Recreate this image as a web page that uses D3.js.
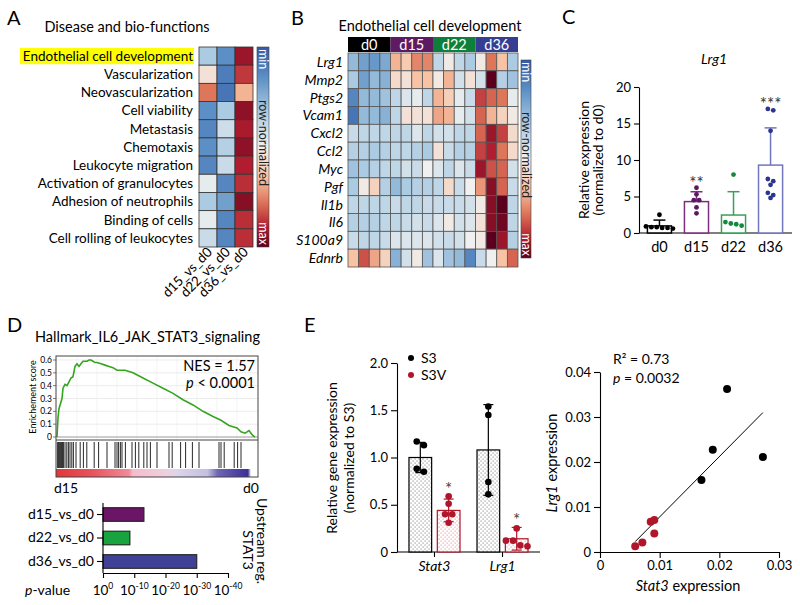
<!DOCTYPE html>
<html><head><meta charset="utf-8">
<script src="https://cdn.jsdelivr.net/npm/d3@7"></script>
<style>
body{margin:0;background:#fff;}
svg{font-family:Lato,"Open Sans",sans-serif;}
</style></head><body>
<svg id="fig" width="800" height="605"></svg>
<script>
// ================= DATA =================
// Panel A
const functionsA = ["Endothelial cell development","Vascularization","Neovascularization","Cell viability","Metastasis","Chemotaxis","Leukocyte migration","Activation of granulocytes","Adhesion of neutrophils","Binding of cells","Cell rolling of leukocytes"];
const contrastsA = ["d15_vs_d0","d22_vs_d0","d36_vs_d0"];
const valuesA = [
  [-0.35,-0.7,0.85],[0.1,-0.8,0.72],[0.55,-0.85,0.35],[-0.7,-0.35,0.88],[-0.75,-0.18,0.82],
  [-0.7,-0.3,0.88],[-0.75,-0.2,0.8],[-0.05,-0.75,0.75],[-0.35,-0.6,0.9],[-0.05,-0.75,0.75],[-0.2,-0.75,0.75]
];
// Panel B
const genesB = ["Lrg1","Mmp2","Ptgs2","Vcam1","Cxcl2","Ccl2","Myc","Pgf","Il1b","Il6","S100a9","Ednrb"];
const groupsB = ["d0","d15","d22","d36"];
const replicatesB = [1,2,3,4];
const valuesB = [
  [-0.45,-0.6,-0.65,-0.55, 0.35,0.25,0.5,0.5, -0.25,0.05,-0.25,-0.35, 0.05,0.55,0.3,-0.35],
  [-0.35,-0.6,-0.45,-0.5, 0.15,0.1,0.3,0.3, 0.05,0.35,-0.15,0.1, -0.15,1.0,-0.3,-0.4],
  [-0.75,-0.45,-0.45,-0.4, -0.25,-0.1,-0.05,-0.25, 0.35,0.22,-0.05,-0.2, 0.7,0.6,0.55,-0.05],
  [-0.85,-0.45,-0.45,-0.5, -0.25,0.1,0.1,0.1, 0.4,0.35,-0.05,-0.15, 0.6,0.35,0.2,0.05],
  [-0.2,-0.25,-0.25,-0.25, -0.25,-0.25,-0.1,-0.25, -0.15,-0.15,-0.25,-0.25, 0.6,0.85,0.7,0.15],
  [-0.3,-0.3,-0.35,-0.3, -0.25,-0.25,-0.3,-0.35, 0.1,-0.2,-0.3,-0.3, 0.7,0.8,0.55,0.15],
  [-0.4,-0.35,-0.3,-0.25, -0.25,-0.15,-0.2,0.0, -0.1,-0.25,-0.1,-0.2, 0.85,0.65,0.6,-0.15],
  [-0.35,0.05,0.2,-0.3, -0.45,-0.35,-0.3,-0.3, -0.25,0.15,-0.2,0.0, 0.45,0.9,0.6,-0.2],
  [-0.25,-0.25,-0.25,-0.25, -0.2,-0.25,-0.25,-0.2, -0.2,-0.2,-0.2,-0.15, 0.05,0.9,1.0,-0.25],
  [-0.3,-0.3,-0.3,-0.25, -0.25,-0.2,-0.15,-0.2, -0.1,0.05,-0.15,-0.1, 0.1,0.9,0.95,-0.25],
  [-0.2,-0.25,-0.25,-0.2, -0.1,-0.1,-0.1,-0.1, -0.15,-0.2,-0.15,0.0, 0.05,1.0,0.85,-0.3],
  [0.3,0.65,0.4,0.2, -0.5,-0.15,0.05,-0.4, -0.1,-0.4,-0.45,-0.75, -0.2,0.0,0.3,0.6]
];
// Panel C
const groupsC = ["d0","d15","d22","d36"];
const pointsC = [
  [2.5,0.9,0.7,0.6,0.8,0.7,0.8],
  [6.2,5.3,4.5,4.5,3.5,2.7],
  [8.0,1.5,1.3,1.0,1.2],
  [16.8,17.0,14.0,7.4,7.1,6.6,5.5,5.2,4.8]
];
const meansC = [0.97,4.3,2.46,9.3];
const sdC = [0.8,1.35,3.2,5.1];
const starsC = ["","**","","***"];
const ticksC = [0,5,10,15,20];
// Panel D (GSEA)
const esRank = [0,0.5,1,2.5,3,4,5,6,7,8,9,10,11,12,13,15,16,17,18,19,20,22,24,26,28,30,32,34,38,43,48,53,58,63,68,73,78,82,86,88,90,92,94,95,96,97,98,99];
const esScore = [0,0.15,0.22,0.3,0.38,0.41,0.40,0.43,0.46,0.47,0.55,0.57,0.55,0.57,0.59,0.59,0.6,0.6,0.59,0.58,0.58,0.57,0.56,0.55,0.54,0.52,0.52,0.52,0.5,0.46,0.42,0.38,0.34,0.29,0.25,0.2,0.16,0.13,0.09,0.08,0.07,0.04,0.03,0.04,0.05,0.03,0.01,0];
const esTicks = [0,0.1,0.2,0.3,0.4,0.5,0.6];
const hitsD = [0.2,0.8,1.2,1.8,2.3,2.8,3.2,4,4.9,5.7,6.5,7.4,8.2,9.5,11.6,13.2,14.9,18.6,20.8,25,29,30,30.8,31.7,32.5,34.2,37.5,39.2,40.9,43.4,45,46.7,50,56,57.6,61.8,64.3,67.7,71,81,82,83.6,88.6,90.3,92];
const contrastsD = ["d15_vs_d0","d22_vs_d0","d36_vs_d0"];
const negLogPD = [13.1,8.6,30];
const ticksD = [0,10,20,30,40];
// Panel E (bars)
const genesE = ["Stat3","Lrg1"];
const groupsE = ["S3","S3V"];
const pointsE = {
  S3:  [[1.13,1.17,0.85,0.88],[1.54,1.45,0.74,0.61]],
  S3V: [[0.59,0.51,0.40,0.40,0.31],[0.25,0.12,0.12,0.07,0.06]]
};
const meansE = {S3:[1.0,1.08], S3V:[0.44,0.14]};
const sdE = {S3:[0.16,0.48], S3V:[0.12,0.12]};
const starsE = {S3:["",""], S3V:["*","*"]};
const ticksE = [0,0.5,1.0,1.5,2.0];
// Panel E (scatter)
const scatterS3x = [0.0213,0.0189,0.0273,0.0170];
const scatterS3y = [0.0362,0.0227,0.0211,0.0160];
const scatterS3Vx = [0.0085,0.0091,0.0091,0.0071,0.0059];
const scatterS3Vy = [0.0067,0.0071,0.0041,0.0021,0.0013];
const fitSlope = 1.34, fitIntercept = -0.0056, fitRange = [0.0059,0.0273];
const ticksSx = [0,0.01,0.02,0.03], ticksSy = [0,0.01,0.02,0.03,0.04];

// ================= DRAWING =================
const svg = d3.select("#fig");
svg.append("rect").attr("width",800).attr("height",605).attr("fill","#fff");
const defs = svg.append("defs");

const heat = d3.scaleLinear()
  .domain([-1,-0.7,-0.35,0,0.3,0.55,0.8,1])
  .range(["#345aa6","#5b8fc5","#abcbe2","#f0f0f0","#f8c3a4","#de765a","#b11d2e","#5a001e"]).clamp(true);
const grad = defs.append("linearGradient").attr("id","heatGrad").attr("x1",0).attr("y1",0).attr("x2",0).attr("y2",1);
d3.range(0,1.0001,0.05).forEach(t=>grad.append("stop").attr("offset",t).attr("stop-color",heat(-1+2*t)));

function label(t,x,y){svg.append("text").attr("x",x).attr("y",y).attr("font-size",20).text(t);}
function colorbar(x,y0,w,h){
  svg.append("rect").attr("x",x).attr("y",y0).attr("width",w).attr("height",h)
    .attr("fill","url(#heatGrad)").attr("stroke","#444").attr("stroke-width",0.6);
  const bx = x + w/2 - 4;
  const t=(s,yy,anchor,fill)=>svg.append("text").attr("transform",`translate(${bx},${yy}) rotate(90)`)
    .attr("font-size",12.5).attr("text-anchor",anchor).attr("fill",fill).text(s);
  t("min",y0+2,"start","#fff");
  t("row-normalized",y0+h*0.48,"middle","#222");
  t("max",y0+h-2,"end","#fff");
}
function dodge(vals,yScale,r){
  const s = vals.map(v=>({v,y:yScale(v)})).sort((a,b)=>a.y-b.y);
  const rows=[];
  s.forEach(p=>{const last=rows[rows.length-1]; if(last && Math.abs(p.y-last[0].y)<2*r) last.push(p); else rows.push([p]);});
  const out=[]; rows.forEach(row=>row.forEach((p,k)=>out.push({v:p.v,y:p.y,dx:(k-(row.length-1)/2)*(2*r+0.6)})));
  return out;
}
function styleAxis(g,fs){
  g.selectAll("path,line").attr("stroke","#000").attr("stroke-width",1.1);
  g.selectAll("text").attr("font-size",fs).attr("fill","#000").attr("font-family","Lato");
}

// ---------- Panel A ----------
label("A",7,25);
svg.append("text").attr("x",127).attr("y",32).attr("text-anchor","middle").attr("font-size",14.5).text("Disease and bio-functions");
const xA = d3.scaleBand().domain(contrastsA).range([199,253]);
const yA = d3.scaleBand().domain(functionsA).range([47,247]);
svg.append("rect").attr("x",20).attr("y",yA(functionsA[0])+1).attr("width",174).attr("height",yA.bandwidth()-2).attr("fill","#ffff00");
functionsA.forEach((f,i)=>{
  svg.append("text").attr("x",193).attr("y",yA(f)+yA.bandwidth()/2+4.8).attr("text-anchor","end").attr("font-size",13.5).text(f);
  contrastsA.forEach((c,j)=>{
    svg.append("rect").attr("x",xA(c)).attr("y",yA(f)).attr("width",xA.bandwidth()).attr("height",yA.bandwidth())
      .attr("fill",heat(valuesA[i][j])).attr("stroke","#333").attr("stroke-width",0.8);
  });
});
contrastsA.forEach(c=>{
  svg.append("text").attr("transform",`translate(${xA(c)+xA.bandwidth()/2+5},${253}) rotate(-45)`)
    .attr("text-anchor","end").attr("font-size",13.5).text(c);
});
colorbar(257,47,12,200);

// ---------- Panel B ----------
label("B",291,25);
svg.append("text").attr("x",430).attr("y",31).attr("text-anchor","middle").attr("font-size",14.5).text("Endothelial cell development");
const samplesB = groupsB.flatMap(g=>replicatesB.map(r=>g+"_"+r));
const xB = d3.scaleBand().domain(samplesB).range([348,518]);
const yB = d3.scaleBand().domain(genesB).range([53,267]);
const groupColB = {d0:"#000000",d15:"#5e1b61",d22:"#0d7f3b",d36:"#363e94"};
groupsB.forEach(g=>{
  const x0=xB(g+"_1"), x1=xB(g+"_4")+xB.bandwidth();
  svg.append("rect").attr("x",x0).attr("y",37).attr("width",x1-x0).attr("height",15).attr("fill",groupColB[g]);
  svg.append("text").attr("x",(x0+x1)/2).attr("y",49.5).attr("text-anchor","middle").attr("fill","#fff").attr("font-size",14.5).text(g);
});
genesB.forEach((gname,i)=>{
  svg.append("text").attr("x",343).attr("y",yB(gname)+yB.bandwidth()/2+5).attr("text-anchor","end")
    .attr("font-size",14).attr("font-style","italic").text(gname);
  samplesB.forEach((s,j)=>{
    svg.append("rect").attr("x",xB(s)).attr("y",yB(gname)).attr("width",xB.bandwidth()).attr("height",yB.bandwidth())
      .attr("fill",heat(valuesB[i][j])).attr("stroke","#555").attr("stroke-width",0.8);
  });
});
colorbar(521,60,10,198);

// ---------- Panel C ----------
label("C",562,24);
svg.append("text").attr("x",714).attr("y",64).attr("text-anchor","middle").attr("font-size",14).attr("font-style","italic").text("Lrg1");
const xC = d3.scaleBand().domain(groupsC).range([640,790]).paddingInner(0.35).paddingOuter(0.2);
const yC = d3.scaleLinear().domain([0,20]).range([233,87]);
const colC = {d0:"#000",d15:"#5c1860",d22:"#14883c",d36:"#2c3590"};
const barColC = {d0:"#000",d15:"#7b2d7e",d22:"#3a9f5a",d36:"#7277bb"};
const gyC = svg.append("g").attr("transform","translate(639,0)").call(d3.axisLeft(yC).tickValues(ticksC).tickSize(5).tickSizeOuter(0).tickPadding(3));
styleAxis(gyC,13);
const gxC = svg.append("g").attr("transform","translate(0,233)").call(d3.axisBottom(xC).tickSize(0).tickPadding(9));
gxC.select(".domain").attr("d","M639,0H792");
styleAxis(gxC,14.5);
svg.append("text").attr("transform","translate(589,160) rotate(-90)").attr("text-anchor","middle").attr("font-size",14).text("Relative expression");
svg.append("text").attr("transform","translate(603,160) rotate(-90)").attr("text-anchor","middle").attr("font-size",14).text("(normalized to d0)");
groupsC.forEach((g,i)=>{
  const x0=xC(g), bw=xC.bandwidth(), cx=x0+bw/2;
  svg.append("rect").attr("x",x0).attr("y",yC(meansC[i])).attr("width",bw).attr("height",yC(0)-yC(meansC[i]))
    .attr("fill","#fff").attr("stroke",barColC[g]).attr("stroke-width",1.5);
  svg.append("line").attr("x1",cx).attr("x2",cx).attr("y1",yC(meansC[i])).attr("y2",yC(meansC[i]+sdC[i])).attr("stroke",barColC[g]).attr("stroke-width",1.5);
  svg.append("line").attr("x1",cx-6).attr("x2",cx+6).attr("y1",yC(meansC[i]+sdC[i])).attr("y2",yC(meansC[i]+sdC[i])).attr("stroke",barColC[g]).attr("stroke-width",1.5);
  dodge(pointsC[i],yC,2.4).forEach(p=>{
    svg.append("circle").attr("cx",cx+p.dx).attr("cy",p.y).attr("r",2.4).attr("fill",colC[g]);
  });
  if(starsC[i]){
    const top=Math.max(d3.max(pointsC[i]),meansC[i]+sdC[i]);
    svg.append("text").attr("x",cx).attr("y",yC(top)+1).attr("text-anchor","middle").attr("font-size",17).attr("fill","#333").text(starsC[i]);
  }
});

// ---------- Panel D ----------
label("D",7,332);
svg.append("text").attr("x",35).attr("y",342).attr("font-size",14.5).text("Hallmark_IL6_JAK_STAT3_signaling");
const xG = d3.scaleLinear().domain([0,100]).range([57,257]);
const yG = d3.scaleLinear().domain([0,0.6]).range([437,360]);
const gsL=56,gsR=258,gsT=356,gsM=440,gsB=477,gsStrip=469;
esTicks.slice(1).forEach(t=>svg.append("line").attr("x1",gsL).attr("x2",gsR).attr("y1",yG(t)).attr("y2",yG(t)).attr("stroke","#e4e4e4").attr("stroke-width",0.7));
d3.range(10,100,10).forEach(t=>svg.append("line").attr("x1",xG(t)).attr("x2",xG(t)).attr("y1",gsT).attr("y2",gsM).attr("stroke","#efefef").attr("stroke-width",0.7));
svg.append("line").attr("x1",gsL).attr("x2",gsR).attr("y1",yG(0)).attr("y2",yG(0)).attr("stroke","#999").attr("stroke-width",1);
svg.append("path").datum(esRank.map((r,i)=>[r,esScore[i]]))
  .attr("d",d3.line().x(d=>xG(d[0])).y(d=>yG(d[1]))).attr("fill","none").attr("stroke","#35a41f").attr("stroke-width",1.6);
esTicks.forEach(t=>{
  svg.append("text").attr("x",52).attr("y",yG(t)+3).attr("text-anchor","end").attr("font-size",8.5).text(t===0?"0":t.toFixed(1));
  svg.append("line").attr("x1",53).attr("x2",gsL).attr("y1",yG(t)).attr("y2",yG(t)).attr("stroke","#444").attr("stroke-width",0.7);
});
svg.append("text").attr("transform","translate(36,397) rotate(-90)").attr("text-anchor","middle").attr("font-size",9).text("Enrichement score");
hitsD.forEach(h=>svg.append("line").attr("x1",xG(h)).attr("x2",xG(h)).attr("y1",gsM+2).attr("y2",gsStrip-1).attr("stroke","#111").attr("stroke-width",0.9));
const sg = defs.append("linearGradient").attr("id","rankGrad");
[[0,"#e2353a"],[0.18,"#e8545c"],[0.36,"#f08a98"],[0.38,"#f6bccb"],[0.55,"#eed0e0"],[0.6,"#dcd4ea"],[0.75,"#c4bfe0"],[0.8,"#6f66b5"],[0.95,"#3d2f98"],[0.965,"#ffffff"],[1,"#ffffff"]]
  .forEach(s=>sg.append("stop").attr("offset",s[0]).attr("stop-color",s[1]));
svg.append("rect").attr("x",gsL).attr("y",gsStrip).attr("width",gsR-gsL).attr("height",gsB-gsStrip).attr("fill","url(#rankGrad)");
svg.append("rect").attr("x",gsL).attr("y",gsT).attr("width",gsR-gsL).attr("height",gsB-gsT).attr("fill","none").attr("stroke","#444").attr("stroke-width",1);
svg.append("line").attr("x1",gsL).attr("x2",gsR).attr("y1",gsM).attr("y2",gsM).attr("stroke","#444").attr("stroke-width",1);
svg.append("text").attr("x",255).attr("y",371).attr("text-anchor","end").attr("font-size",14.5).text("NES = 1.57");
const pt = svg.append("text").attr("x",255).attr("y",388).attr("text-anchor","end").attr("font-size",14.5);
pt.append("tspan").attr("font-style","italic").text("p");
pt.append("tspan").text(" < 0.0001");
svg.append("text").attr("x",54).attr("y",493).attr("font-size",14).text("d15");
svg.append("text").attr("x",259).attr("y",493).attr("text-anchor","end").attr("font-size",14).text("d0");

const xP = d3.scaleLinear().domain([0,40]).range([103,228]);
const yP = d3.scaleBand().domain(contrastsD).range([503,573]).paddingInner(0.42).paddingOuter(0.2);
const colD = ["#6a1566","#17a33e","#3f4196"];
contrastsD.forEach((c,i)=>{
  svg.append("rect").attr("x",xP(0)).attr("y",yP(c)).attr("width",xP(negLogPD[i])-xP(0)).attr("height",yP.bandwidth())
    .attr("fill",colD[i]).attr("stroke","#222").attr("stroke-width",1.1);
});
const gyP = svg.append("g").attr("transform","translate(103,0)").call(d3.axisLeft(yP).tickSize(6).tickSizeOuter(0).tickPadding(3));
gyP.select(".domain").attr("d","M0,503V573");
styleAxis(gyP,14);
const gxP = svg.append("g").attr("transform","translate(0,573)").call(d3.axisBottom(xP).tickValues(ticksD).tickSize(5).tickSizeOuter(0).tickFormat(""));
styleAxis(gxP,13);
ticksD.forEach(t=>{
  const tx = svg.append("text").attr("x",xP(t)).attr("y",595).attr("text-anchor","middle").attr("font-size",13.5);
  tx.append("tspan").text("10");
  tx.append("tspan").attr("font-size",8.5).attr("dy",-6).text(t===0?"0":"-"+t);
});
const pv = svg.append("text").attr("x",25).attr("y",595).attr("font-size",14);
pv.append("tspan").attr("font-style","italic").text("p");
pv.append("tspan").text("-value");
svg.append("text").attr("transform","translate(257,541) rotate(90)").attr("text-anchor","middle").attr("font-size",14).text("Upstream reg.");
svg.append("text").attr("transform","translate(243,550) rotate(90)").attr("text-anchor","middle").attr("font-size",14).text("STAT3");

// ---------- Panel E (bars) ----------
label("E",304,332);
const dotP = (id,col)=>{
  const p = defs.append("pattern").attr("id",id).attr("width",4).attr("height",4).attr("patternUnits","userSpaceOnUse");
  p.append("rect").attr("width",4).attr("height",4).attr("fill","#fff");
  p.append("rect").attr("x",0.6).attr("y",0.6).attr("width",0.9).attr("height",0.9).attr("fill",col);
  p.append("rect").attr("x",2.6).attr("y",2.6).attr("width",0.9).attr("height",0.9).attr("fill",col);
};
dotP("dotsK","#444"); dotP("dotsR","#d05a66");
const colE = {S3:"#000",S3V:"#b0152a"};
const fillE = {S3:"url(#dotsK)",S3V:"url(#dotsR)"};
const xE = d3.scaleBand().domain(genesE).range([397,540]).paddingInner(0.25).paddingOuter(0.176);
const xE2 = d3.scaleBand().domain(groupsE).range([0,xE.bandwidth()]).paddingInner(0.2);
const yE = d3.scaleLinear().domain([0,2]).range([552,363]);
const gyE = svg.append("g").attr("transform","translate(397,0)").call(d3.axisLeft(yE).tickValues(ticksE).tickSize(6).tickSizeOuter(0).tickPadding(3).tickFormat(d=>d===0?"0":d.toFixed(1)));
styleAxis(gyE,13);
const gxE = svg.append("g").attr("transform","translate(0,552)").call(d3.axisBottom(xE).tickSize(5).tickSizeOuter(0).tickPadding(4));
gxE.select(".domain").attr("d","M397,0H540");
styleAxis(gxE,14);
gxE.selectAll(".tick text").attr("font-style","italic");
svg.append("text").attr("transform","translate(337,458) rotate(-90)").attr("text-anchor","middle").attr("font-size",14).text("Relative gene expression");
svg.append("text").attr("transform","translate(354,458) rotate(-90)").attr("text-anchor","middle").attr("font-size",14).text("(normalized to S3)");
genesE.forEach((gname,i)=>{
  groupsE.forEach(grp=>{
    const x0 = xE(gname)+xE2(grp), bw = xE2.bandwidth(), cx = x0+bw/2;
    const m = meansE[grp][i], s = sdE[grp][i];
    svg.append("rect").attr("x",x0).attr("y",yE(m)).attr("width",bw).attr("height",yE(0)-yE(m))
      .attr("fill",fillE[grp]).attr("stroke",colE[grp]).attr("stroke-width",1.2);
    svg.append("line").attr("x1",cx).attr("x2",cx).attr("y1",yE(Math.max(0,m-s))).attr("y2",yE(m+s)).attr("stroke",colE[grp]).attr("stroke-width",1.2);
    [m+s,Math.max(0,m-s)].forEach(v=>svg.append("line").attr("x1",cx-5).attr("x2",cx+5).attr("y1",yE(v)).attr("y2",yE(v)).attr("stroke",colE[grp]).attr("stroke-width",1.2));
    dodge(pointsE[grp][i],yE,3.3).forEach(p=>svg.append("circle").attr("cx",cx+p.dx).attr("cy",p.y).attr("r",3.3).attr("fill",colE[grp]));
    if(starsE[grp][i]){
      const top = Math.max(d3.max(pointsE[grp][i]),m+s);
      svg.append("text").attr("x",cx).attr("y",yE(top)-1).attr("text-anchor","middle").attr("font-size",17).attr("fill","#444").text(starsE[grp][i]);
    }
  });
});
groupsE.forEach((grp,k)=>{
  svg.append("circle").attr("cx",411).attr("cy",358+k*17).attr("r",3).attr("fill",colE[grp]);
  svg.append("text").attr("x",421).attr("y",363+k*17).attr("font-size",14).text(grp);
});

// ---------- Panel E (scatter) ----------
const xS = d3.scaleLinear().domain([0,0.03]).range([600,779]);
const yS = d3.scaleLinear().domain([0,0.04]).range([552,372]);
const gyS = svg.append("g").attr("transform","translate(600,0)").call(d3.axisLeft(yS).tickValues(ticksSy).tickSize(6).tickSizeOuter(0).tickPadding(3).tickFormat(d=>d===0?"0":d.toFixed(2)));
styleAxis(gyS,13);
const gxS = svg.append("g").attr("transform","translate(0,552)").call(d3.axisBottom(xS).tickValues(ticksSx).tickSize(6).tickSizeOuter(0).tickPadding(3).tickFormat(d=>d===0?"0":d.toFixed(2)));
styleAxis(gxS,13);
svg.append("line").attr("x1",xS(fitRange[0])).attr("x2",xS(fitRange[1]))
  .attr("y1",yS(fitSlope*fitRange[0]+fitIntercept)).attr("y2",yS(fitSlope*fitRange[1]+fitIntercept)).attr("stroke","#000").attr("stroke-width",1);
scatterS3x.forEach((x,i)=>svg.append("circle").attr("cx",xS(x)).attr("cy",yS(scatterS3y[i])).attr("r",4).attr("fill","#000"));
scatterS3Vx.forEach((x,i)=>svg.append("circle").attr("cx",xS(x)).attr("cy",yS(scatterS3Vy[i])).attr("r",4).attr("fill","#b0152a"));
svg.append("text").attr("x",613).attr("y",364).attr("font-size",14).text("R\u00b2 = 0.73");
const pp = svg.append("text").attr("x",613).attr("y",383).attr("font-size",14);
pp.append("tspan").attr("font-style","italic").text("p");
pp.append("tspan").text(" = 0.0032");
const xl = svg.append("text").attr("x",688).attr("y",591).attr("text-anchor","middle").attr("font-size",14.5);
xl.append("tspan").attr("font-style","italic").text("Stat3");
xl.append("tspan").text(" expression");
const yl = svg.append("text").attr("transform","translate(557,463) rotate(-90)").attr("text-anchor","middle").attr("font-size",14.5);
yl.append("tspan").attr("font-style","italic").text("Lrg1");
yl.append("tspan").text(" expression");
</script>
</body></html>
